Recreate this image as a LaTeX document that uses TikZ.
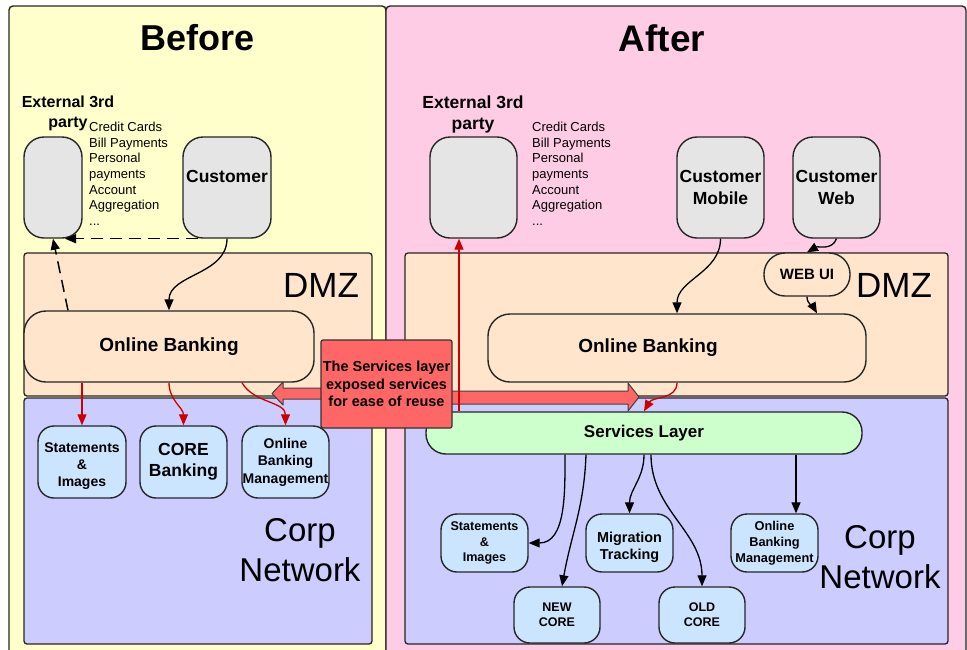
\documentclass[tikz,border=0pt]{standalone}
\usepackage{fontspec}
\setmainfont{Liberation Sans}
\usetikzlibrary{arrows.meta}
\usetikzlibrary{calc}

\definecolor{yellowbg}{HTML}{FFFFCC}
\definecolor{pinkbg}{HTML}{FFCCE5}
\definecolor{zonepeach}{HTML}{FFE5CC}
\definecolor{corplav}{HTML}{CCCCFF}
\definecolor{graybox}{HTML}{E5E5E5}
\definecolor{appblue}{HTML}{CCE5FF}
\definecolor{svcgreen}{HTML}{CCFFCC}
\definecolor{calloutred}{HTML}{FF6666}
\definecolor{arrowred}{HTML}{CC0000}

\newcommand{\fsz}[2]{\fontsize{#1}{#2}\selectfont}

\begin{document}
\begin{tikzpicture}[x=1pt, y=-1pt,
  panel/.style={draw=black!85, line width=1.4pt, rounded corners=4pt},
  zone/.style={draw=black!85, line width=1.3pt, rounded corners=3pt, inner sep=0pt},
  actor/.style={draw=black!85, line width=1.4pt, fill=graybox, rounded corners=20pt,
    inner sep=0pt, align=center, minimum height=101pt, font=\fsz{17.5}{22}\bfseries},
  app/.style={draw=black!85, line width=1.4pt, fill=appblue, rounded corners=16pt,
    inner sep=0pt, align=center},
  flow/.style={-{Triangle[length=11pt,width=9pt]}, line width=1.3pt},
  redflow/.style={flow, color=arrowred},
  dashflow/.style={flow, line width=1.5pt, dash pattern=on 12pt off 7pt},
  fatarrow/.style={fill=calloutred, draw=black!75, line width=1pt, line join=round}]

\useasboundingbox (0,0) rectangle (967,649);
\fill[white] (0,0) rectangle (967,649);

%the two halves
\draw[panel, fill=yellowbg] (9,670) rectangle (386,6);
\draw[panel, fill=pinkbg] (386,670) rectangle (966,6);

\node (before) at (198,38) {\fsz{36}{40}\bfseries Before};
\node (after) at (662,38) {\fsz{37}{40}\bfseries After};

%zones of the network
\node[zone, fill=zonepeach, minimum width=348pt, minimum height=143pt] (dmzL) at (198,324.5) {};
\node[zone, fill=corplav, minimum width=348pt, minimum height=246pt] (corpL) at (198,521) {};
\node[zone, fill=zonepeach, minimum width=543pt, minimum height=143pt] (dmzR) at (676.5,324.5) {};
\node[zone, fill=corplav, minimum width=543pt, minimum height=246pt] (corpR) at (676.5,521) {};

\node (dmztxtL) at (321,285) {\fsz{35}{40}DMZ};
\node (dmztxtR) at (894,285) {\fsz{35}{40}DMZ};
\node[align=center, font=\fsz{33}{40}] (corptxtL) at (300,550) {Corp\\Network};
\node[align=center, font=\fsz{33}{40}] (corptxtR) at (880,557) {Corp\\Network};

%fat arrows of the services layer
\draw[fatarrow] (322,388) -- (283,388) -- (283,382) -- (272,393.5) -- (283,405) -- (283,399) -- (322,399) -- cycle;
\draw[fatarrow] (451,391) -- (628,391) -- (628,383) -- (639,397) -- (628,411) -- (628,404) -- (451,404) -- cycle;

% before
\node[align=center, font=\fsz{16}{20}\bfseries] (exttxtL) at (68,113.5) {External 3rd\\party};
\node[actor, minimum width=58pt] (extL) at (53,187.5) {};
\node[align=left, anchor=north west, inner sep=0pt, font=\fsz{13}{15.6}] (listL) at (89,122)
  {Credit Cards\\Bill Payments\\Personal\\payments\\Account\\Aggregation\\...};
\node[actor, minimum width=88pt] (custL) at (227,187.5) {Customer\\[0pt]\phantom{X}};

\node[zone, draw=black!85, line width=1.4pt, fill=zonepeach, rounded corners=22pt,
  minimum width=290pt, minimum height=71pt, font=\fsz{19}{22}\bfseries] (obL) at (169,346.5) {Online Banking};

\node[app, minimum width=88pt, minimum height=72pt, font=\fsz{14}{17}\bfseries] (stmtL) at (82,462) {\rule{0pt}{17pt}Statements\\\&\\Images};
\node[app, minimum width=87pt, minimum height=72pt, font=\fsz{17.5}{21}\bfseries] (coreL) at (183.5,462) {CORE\\Banking};
\node[app, minimum width=87pt, minimum height=72pt, font=\fsz{14}{17.5}\bfseries] (obmL) at (285.5,462) {Online\\Banking\\Management};

\draw[flow] (custL.south) to[out=-90, in=90] (obL.north);
\draw[dashflow] ([xshift=-29]custL.south) -- ([xshift=12]extL.south);
\draw[dashflow] ([xshift=-101]obL.north) -- (extL.south);
\draw[redflow] ([xshift=-87]obL.south) -- (stmtL.north);
\draw[redflow] (obL.south) to[out=-90, in=90] (coreL.north);
\draw[redflow] ([xshift=73]obL.south) to[out=-60, in=90] (obmL.north);

% after
\node[align=center, font=\fsz{17.5}{21}\bfseries] (exttxtR) at (473,114.5) {External 3rd\\party};
\node[actor, minimum width=87pt] (extR) at (473.5,187.5) {};
\node[align=left, anchor=north west, inner sep=0pt, font=\fsz{13}{15.6}] (listR) at (532,122)
  {Credit Cards\\Bill Payments\\Personal\\payments\\Account\\Aggregation\\...};
\node[actor, minimum width=87pt] (custMob) at (720.5,187.5) {Customer\\Mobile};
\node[actor, minimum width=87pt] (custWeb) at (836.5,187.5) {Customer\\Web};

\node[zone, draw=black!85, line width=1.4pt, fill=zonepeach, rounded corners=21pt,
  minimum width=86pt, minimum height=43pt, font=\fsz{15}{18}\bfseries] (webui) at (807,274.5) {WEB UI};
\node[zone, draw=black!85, line width=1.4pt, fill=zonepeach, rounded corners=22pt,
  minimum width=378pt, minimum height=68pt, font=\fsz{19}{22}\bfseries] (obR) at (677,348) {Online Banking\hspace*{58pt}};

\node[zone, draw=black!85, line width=1.4pt, fill=svcgreen, rounded corners=20pt,
  minimum width=436pt, minimum height=42pt, font=\fsz{17}{20}\bfseries] (svc) at (644,433) {Services Layer};

\node[app, minimum width=87pt, minimum height=58pt, font=\fsz{12.6}{15.5}\bfseries] (stmtR) at (484.5,543) {Statements\\\&\\Images};
\node[app, minimum width=87pt, minimum height=58pt, font=\fsz{14.4}{17}\bfseries] (migr) at (629.5,543) {\rule{0pt}{20pt}Migration\\Tracking};
\node[app, minimum width=87pt, minimum height=58pt, font=\fsz{12.8}{16}\bfseries] (obmR) at (774.5,543) {Online\\Banking\\Management};
\node[app, minimum width=86pt, minimum height=56pt, font=\fsz{12.5}{15}\bfseries] (newcore) at (557,615) {NEW\\CORE};
\node[app, minimum width=86pt, minimum height=56pt, font=\fsz{12.5}{15}\bfseries] (oldcore) at (702,615) {OLD\\CORE};

\coordinate (extport) at ([xshift=-14.5]extR.south);
\coordinate (obmport) at ([xshift=152]svc.south);

\draw[flow] (custMob.south) to[out=-90, in=90] (obR.north);
\draw[flow] (custWeb.south) to[out=-110, in=30] (webui.north);
\draw[flow] (webui.south) to[out=-90, in=120] ([xshift=140]obR.north);
\draw[redflow] (obR.south) to[out=-90, in=60] (svc.north);
\draw[redflow] (extport |- svc.north) -- (extport);

\draw[flow] ([xshift=-79]svc.south) to[out=-90, in=0] (stmtR.east);
\draw[flow] ([xshift=-58]svc.south) to[out=-92, in=80] ([xshift=5]newcore.north);
\draw[flow] (svc.south) to[out=-90, in=90] (migr.north);
\draw[flow] ([xshift=7]svc.south) to[out=-90, in=90] (oldcore.north);
\draw[flow] (obmport) -- (obmport |- obmR.north);

%the note in between
\node[draw=black!80, line width=1.2pt, fill=calloutred, rounded corners=2pt, inner sep=0pt,
  minimum width=131pt, minimum height=88pt, align=center, font=\fsz{14.5}{17.5}\bfseries] (callout) at (386.5,384)
  {The Services layer\\exposed services\\for ease of reuse};

\end{tikzpicture}
\end{document}
